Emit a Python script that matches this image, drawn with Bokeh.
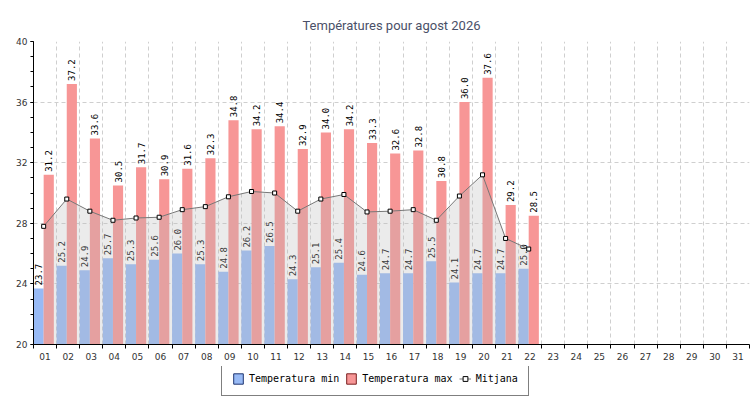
from bokeh.plotting import figure
from bokeh.layouts import column
from bokeh.models import (FixedTicker, Legend, LegendItem, ColumnDataSource,
                          Range1d)
from bokeh.transform import dodge
from bokeh.core.properties import value
from bokeh.embed import file_html
from bokeh.resources import INLINE
import math

# ---- data ----
title_text = "Températures pour agost 2026"
days = list(range(1, 23))
all_days = list(range(1, 32))
day_labels = ["%02d" % d for d in all_days]
t_min = [23.7, 25.2, 24.9, 25.7, 25.3, 25.6, 26.0, 25.3, 24.8, 26.2, 26.5,
         24.3, 25.1, 25.4, 24.6, 24.7, 24.7, 25.5, 24.1, 24.7, 24.7, 25.0]
t_max = [31.2, 37.2, 33.6, 30.5, 31.7, 30.9, 31.6, 32.3, 34.8, 34.2, 34.4,
         32.9, 34.0, 34.2, 33.3, 32.6, 32.8, 30.8, 36.0, 37.6, 29.2, 28.5]
t_mean = [27.8, 29.6, 28.8, 28.2, 28.35, 28.4, 28.9, 29.1, 29.75, 30.1, 30.0,
          28.8, 29.6, 29.9, 28.75, 28.8, 28.9, 28.2, 29.8, 31.2, 27.0, 26.3]
series_names = ["Temperatura min", "Temperatura max", "Mitjana"]
y_min, y_max = 20, 40

BLUE = "#98baf5"
RED = "#f79696"

src = ColumnDataSource(dict(
    day=days, tmin=t_min, tmax=t_max, tmean=t_mean,
    base=[y_min] * len(days),
    lmin=["%.1f" % v for v in t_min],
    lmax=["%.1f" % v for v in t_max],
))

p = figure(width=750, height=366, output_backend="svg", toolbar_location=None,
           x_range=Range1d(0.5, 31.5), y_range=Range1d(y_min, y_max),
           title=title_text)
p.min_border_left = 33
p.min_border_right = 1
p.min_border_top = 41
p.min_border_bottom = 22
p.outline_line_color = None
p.background_fill_color = "white"
p.border_fill_color = "white"

p.title.align = "center"
p.title.text_font = "Roboto"
p.title.text_font_size = "13px"
p.title.text_font_style = "normal"
p.title.text_color = "#4a5068"
p.title.standoff = 17

# grid
p.xgrid.ticker = FixedTicker(ticks=[d + 0.5 for d in all_days])
p.ygrid.ticker = FixedTicker(ticks=[24, 28, 32, 36, 40])
for g in (p.xgrid, p.ygrid):
    g.grid_line_color = "#cfcfcf"
    g.grid_line_dash = "4 3"
    g.grid_line_width = 1

# axes
xa = p.xaxis[0]
xa.ticker = FixedTicker(ticks=all_days, minor_ticks=[d - 0.5 for d in all_days] + [31.5])
xa.major_label_overrides = {d: lab for d, lab in zip(all_days, day_labels)}
xa.major_tick_out = 0
xa.major_tick_in = 0
xa.minor_tick_out = 4
xa.minor_tick_in = 0
xa.major_label_standoff = 4
ya = p.yaxis[0]
ya.ticker = FixedTicker(ticks=[20, 24, 28, 32, 36, 40],
                        minor_ticks=list(range(20, 41)))
ya.major_tick_out = 3
ya.major_tick_in = 0
ya.minor_tick_out = 3
ya.minor_tick_in = 0
ya.major_label_standoff = 3
for a in (xa, ya):
    a.axis_line_color = "black"
    a.major_tick_line_color = "black"
    a.minor_tick_line_color = "black"
    a.major_label_text_font = "DejaVu Sans"
    a.major_label_text_font_size = "9px"
    a.major_label_text_color = "#333333"

# bars
bw = 0.44
xmin = dodge("day", -0.5 + bw / 2, range=p.x_range)
xmax = dodge("day", -0.5 + bw + bw / 2, range=p.x_range)
p.vbar(x=xmin, bottom="base", top="tmin",
       width=bw, source=src, fill_color=BLUE, line_color=None)
p.vbar(x=xmax, bottom="base", top="tmax",
       width=bw, source=src, fill_color=RED, line_color=None)

# value labels
lab_kw = dict(angle=math.pi / 2, text_align="left", text_baseline="middle",
              text_font=value("DejaVu Sans Mono"), text_font_size="9px",
              text_color="black", y_offset=-3)
p.text(x=xmin, y="tmin", text="lmin", source=src, **lab_kw)
p.text(x=xmax, y="tmax", text="lmax", source=src, **lab_kw)

# mean area + line
mx = dodge("day", -0.5 + bw, range=p.x_range)
p.varea(x=mx, y1="base", y2="tmean", source=src, fill_color="#b9b9b9",
        fill_alpha=0.29)
p.line(x=mx, y="tmean", source=src, line_color="#777777", line_width=1)
p.scatter(x=mx, y="tmean", source=src, marker="square", size=4,
          fill_color="white", line_color="black", line_width=1)

# ---- legend strip (separate figure; its renderers are hidden, legend only) ----
lg = figure(width=750, height=34, output_backend="svg", toolbar_location=None,
            x_range=Range1d(0.5, 31.5), y_range=Range1d(0, 1),
            x_axis_location=None, y_axis_location=None)
lg.min_border = 0
lg.outline_line_color = None
lg.grid.visible = False
lg.background_fill_color = "white"
lg.border_fill_color = "white"
g_min = lg.vbar(x=xmin, bottom="base", top="tmin", width=bw, source=src,
                fill_color=BLUE, line_color="#1f3570", line_width=1, visible=False)
g_max = lg.vbar(x=xmax, bottom="base", top="tmax", width=bw, source=src,
                fill_color=RED, line_color="#7a1f1f", line_width=1, visible=False)
g_line = lg.line(x=mx, y="tmean", source=src, line_color="#777777", line_width=1,
                 visible=False)
g_pts = lg.scatter(x=mx, y="tmean", source=src, marker="square", size=4,
                   fill_color="white", line_color="black", line_width=1,
                   visible=False)

legend = Legend(items=[
    LegendItem(label=series_names[0], renderers=[g_min]),
    LegendItem(label=series_names[1], renderers=[g_max]),
    LegendItem(label=series_names[2], renderers=[g_line, g_pts]),
], orientation="horizontal", location=(188, 4))
legend.label_text_font = "DejaVu Sans Mono"
legend.label_text_font_size = "10px"
legend.label_text_color = "black"
legend.glyph_width = 12
legend.glyph_height = 13
legend.label_standoff = 5
legend.spacing = 6
legend.padding = 10
legend.margin = 0
legend.border_line_color = "black"
legend.border_line_width = 1
legend.background_fill_color = "white"
legend.background_fill_alpha = 1
legend.inactive_fill_alpha = 0
lg.add_layout(legend, "center")

layout = column(p, lg, spacing=0)
open("out.html", "w").write(file_html(layout, INLINE))
